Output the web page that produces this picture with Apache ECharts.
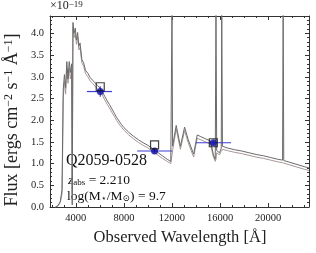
<!DOCTYPE html>
<html>
<head>
<meta charset="utf-8">
<script src="https://cdn.jsdelivr.net/npm/echarts@6/dist/echarts.min.js"></script>
<style>html,body{margin:0;padding:0;background:#fff}#c{width:316px;height:253px}</style>
</head>
<body>
<div id="c"></div>
<script>
// ---- data ----
const wave  = [2300,2500,2700,2850,2900,2950,3050,3150,3250,3350,3450,3550,3650,3700,3760,3850,3950,4050,4150,4250,4350,4500,4650,4800,5000,5200,5400,5600,5800,6000,6200,6400,6600,6800,7000,7200,7400,7600,7800,8000,8400,8800,9200,9600,10000,10400,10800,11200,11600,11900,12000,12050,12350,12700,13050,13350,13800,14100,14400,14800,15200,15450,15600,15660,15720,15950,16100,16140,16200,16600,17200,17800,18400,19000,19600,20200,20800,21200,21250,21300,21800,22400,23000,23400];
const fluxA = [0.00,0.03,0.12,0.40,1.60,2.70,3.05,2.75,3.35,2.95,3.35,3.10,3.30,0.05,4.25,4.00,4.12,3.85,4.02,3.70,3.78,3.40,3.32,3.15,3.08,2.98,2.92,2.86,2.80,2.74,2.66,2.55,2.45,2.36,2.26,2.16,2.06,1.98,1.90,1.83,1.72,1.63,1.55,1.48,1.42,1.34,1.26,1.18,1.10,1.05,4.60,1.40,1.88,1.40,1.84,1.55,1.22,1.66,1.62,1.57,1.52,1.20,1.10,4.60,1.30,1.25,1.35,4.60,1.40,1.36,1.32,1.29,1.25,1.21,1.18,1.14,1.10,1.08,4.60,1.07,1.03,0.98,0.93,0.90];
const fluxB = [0.00,0.02,0.10,0.30,1.20,2.50,2.90,2.60,3.20,2.85,3.20,2.95,3.15,0.30,4.15,3.90,4.00,3.75,3.92,3.62,3.68,3.32,3.24,3.08,3.00,2.90,2.85,2.78,2.72,2.66,2.58,2.47,2.37,2.28,2.18,2.09,1.99,1.91,1.84,1.77,1.66,1.57,1.49,1.42,1.36,1.28,1.20,1.12,1.05,1.00,1.00,1.30,1.80,1.33,1.76,1.48,1.15,1.58,1.55,1.50,1.45,1.15,1.05,1.10,1.25,1.20,1.28,1.30,1.33,1.30,1.26,1.23,1.19,1.15,1.12,1.08,1.04,1.02,1.02,1.01,0.97,0.92,0.87,0.84];
// photometry: wavelength, band low, band high, observed flux, obs error, model flux
const photWave  = [6030, 10550, 15440];
const photLo    = [4920, 9100, 13990];
const photHi    = [7010, 12030, 16920];
const photFlux  = [2.66, 1.29, 1.48];
const photErr   = [0.12, 0.05, 0.05];
const modelFlux = [2.77, 1.43, 1.48];
const xMajor = [4000, 8000, 12000, 16000, 20000];
const xMinor = [2000,3000,4000,5000,6000,7000,8000,9000,10000,11000,12000,13000,14000,15000,16000,17000,18000,19000,20000,21000,22000,23000];
const yMajor = [0, 0.5, 1.0, 1.5, 2.0, 2.5, 3.0, 3.5, 4.0];
const yMinor = [0,0.1,0.2,0.3,0.4,0.5,0.6,0.7,0.8,0.9,1.0,1.1,1.2,1.3,1.4,1.5,1.6,1.7,1.8,1.9,2.0,2.1,2.2,2.3,2.4,2.5,2.6,2.7,2.8,2.9,3.0,3.1,3.2,3.3,3.4,3.5,3.6,3.7,3.8,3.9,4.0,4.1,4.2,4.3];

// ---- chart ----
const FONT = '"Liberation Serif", "DejaVu Serif", serif';
const XMIN = 1850, XMAX = 23400, YMIN = 0, YMAX = 4.4;
const axisCol = '#333';
function xAx(pos, ticks, len, labels, line) {
  return {
    type: 'value', position: pos, min: XMIN, max: XMAX, offset: 0,
    axisLine: { show: line, onZero: false, lineStyle: { color: axisCol, width: 1 } },
    axisTick: { show: true, inside: true, length: len, customValues: ticks, lineStyle: { color: axisCol, width: 1 } },
    axisLabel: labels ? { show: true, customValues: xMajor, fontFamily: FONT, fontSize: 10.5, color: '#222', margin: 6, formatter: v => String(v) } : { show: false },
    splitLine: { show: false }
  };
}
function yAx(pos, ticks, len, labels, line) {
  return {
    type: 'value', position: pos, min: YMIN, max: YMAX, offset: 0,
    axisLine: { show: line, onZero: false, lineStyle: { color: axisCol, width: 1 } },
    axisTick: { show: true, inside: true, length: len, customValues: ticks, lineStyle: { color: axisCol, width: 1 } },
    axisLabel: labels ? { show: true, customValues: yMajor, fontFamily: FONT, fontSize: 10.5, color: '#222', margin: 6, formatter: v => v.toFixed(1) } : { show: false },
    splitLine: { show: false }
  };
}
const specA = wave.map((w, i) => [w, fluxA[i]]);
const specB = wave.map((w, i) => [w, fluxB[i]]);
const phot = photWave.map((w, i) => [w, photLo[i], photHi[i], photFlux[i], photErr[i]]);

const chart = echarts.init(document.getElementById('c'), null, { renderer: 'canvas' });
chart.setOption({
  animation: false,
  backgroundColor: '#fff',
  grid: { left: 50, right: 7, top: 16, bottom: 46, containLabel: false },
  xAxis: [xAx('bottom', xMajor, 4, true, true), xAx('bottom', xMinor, 2, false, false),
          xAx('top', xMajor, 4, false, true), xAx('top', xMinor, 2, false, false)],
  yAxis: [yAx('left', yMajor, 4, true, true), yAx('left', yMinor, 2, false, false),
          yAx('right', yMajor, 4, false, true), yAx('right', yMinor, 2, false, false)],
  series: [
    { type: 'line', data: specB, showSymbol: false, symbol: 'none', clip: true,
      lineStyle: { color: '#a89696', width: 1 }, z: 2 },
    { type: 'line', data: specA, showSymbol: false, symbol: 'none', clip: true,
      lineStyle: { color: '#6a6a6a', width: 1 }, z: 3 },
    { type: 'custom', data: phot, z: 4, clip: true,
      renderItem: function (params, api) {
        const y = api.value(3), e = api.value(4), x = api.value(0);
        const a = api.coord([api.value(1), y]);
        const b = api.coord([api.value(2), y]);
        const c = api.coord([x, y + e]);
        const d = api.coord([x, y - e]);
        const st = { stroke: '#3c3cd2', lineWidth: 1.2 };
        return { type: 'group', children: [
          { type: 'line', shape: { x1: a[0], y1: a[1], x2: b[0], y2: b[1] }, style: st },
          { type: 'line', shape: { x1: c[0], y1: c[1], x2: d[0], y2: d[1] }, style: st }
        ]};
      }
    },
    { type: 'scatter', data: photWave.map((w, i) => [w, photFlux[i]]), symbol: 'circle', symbolSize: 7,
      itemStyle: { color: '#0c0ca0' }, z: 5 },
    { type: 'scatter', data: photWave.map((w, i) => [w, modelFlux[i]]), symbol: 'rect', symbolSize: 8,
      itemStyle: { color: 'rgba(255,255,255,0)', borderColor: '#111', borderWidth: 1.2 }, z: 6 }
  ],
  graphic: [
    { type: 'text', left: 50, top: 0, style: { text: '×10{s|−19}', fontFamily: FONT, fontSize: 12, fill: '#222',
        rich: { s: { fontSize: 9, verticalAlign: 'top', fontFamily: FONT, fill: '#222' } } } },
    { type: 'text', x: 66, y: 161, style: { text: 'Q2059-0528', fontFamily: FONT, fontSize: 16, fill: '#111', verticalAlign: 'middle' } },
    { type: 'text', x: 68, y: 180, style: { text: '{i|z}{sub|abs} = 2.210', fontFamily: FONT, fontSize: 13.5, fill: '#111', verticalAlign: 'middle',
        rich: { i: { fontStyle: 'italic', fontFamily: FONT, fontSize: 13.5, fill: '#111' },
                sub: { fontSize: 9, verticalAlign: 'bottom', fontFamily: FONT, fill: '#111' } } } },
    { type: 'text', x: 67, y: 196, style: { text: 'log(M{sub|⋆}/M{sub|⊙}) = 9.7', fontFamily: FONT, fontSize: 13.5, fill: '#111', verticalAlign: 'middle',
        rich: { sub: { fontSize: 9, verticalAlign: 'bottom', fontFamily: FONT, fill: '#111' } } } },
    { type: 'text', x: 180, y: 238, style: { text: 'Observed Wavelength [Å]', fontFamily: FONT, fontSize: 16.5, fill: '#222', align: 'center', verticalAlign: 'middle' } },
    { type: 'text', x: 12, y: 120, rotation: Math.PI / 2, style: { text: 'Flux [ergs cm{s|−2} s{s|−1} Å{s|−1}]', fontFamily: FONT, fontSize: 18, fill: '#222', align: 'center', verticalAlign: 'middle',
        rich: { s: { fontSize: 12, verticalAlign: 'top', fontFamily: FONT, fill: '#222' } } } }
  ]
});
</script>
</body>
</html>
